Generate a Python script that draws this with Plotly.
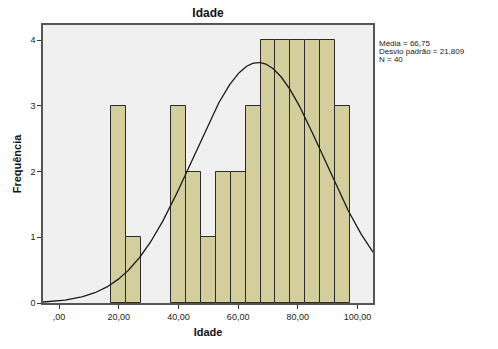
import numpy as np
import plotly.graph_objects as go

bin_centers = [20, 25, 40, 45, 50, 55, 60, 65, 70, 75, 80, 85, 90, 95]
counts = [3, 1, 3, 2, 1, 2, 2, 3, 4, 4, 4, 4, 4, 3]
bin_width = 5
mean, sd, n = 66.75, 21.809, 40
x_tick_vals = [0, 20, 40, 60, 80, 100]
x_tick_text = [",00", "20,00", "40,00", "60,00", "80,00", "100,00"]
y_tick_vals = [0, 1, 2, 3, 4]
stats_lines = [f"Média = {mean:.2f}".replace(".", ","),
               f"Desvio padrão = {sd:.3f}".replace(".", ","),
               f"N = {n}"]

xr = [-5.4, 105.2]
xs = np.linspace(xr[0], xr[1], 300)
ys = n * bin_width / (sd * np.sqrt(2 * np.pi)) * np.exp(-0.5 * ((xs - mean) / sd) ** 2)

fig = go.Figure()
fig.add_trace(go.Bar(x=bin_centers, y=counts, width=bin_width,
                     marker=dict(color="#D3CE9B", line=dict(color="#2b2b2b", width=1)),
                     showlegend=False, hoverinfo="x+y"))
fig.add_trace(go.Scatter(x=xs, y=ys, mode="lines", line=dict(color="#1a1a1a", width=1.3),
                         showlegend=False, hoverinfo="skip"))

fig.update_layout(
    width=498, height=349,
    margin=dict(l=43, r=125, t=25, b=42),
    paper_bgcolor="white", plot_bgcolor="#F0F0F0",
    font=dict(family="Arial, Liberation Sans", size=9, color="#222"),
    title=dict(text="<b>Idade</b>", x=(43 + 373) / 2 / 498, xanchor="center", y=1 - 13 / 349, yanchor="middle",
               font=dict(size=12, color="#111")),
    bargap=0,
    xaxis=dict(range=xr, tickvals=x_tick_vals, ticktext=x_tick_text, ticks="outside", ticklen=4,
               tickcolor="#333", showgrid=False, zeroline=False, showline=True, linecolor="#555", linewidth=1.5,
               mirror=True,
               title=dict(text="<b>Idade</b>", font=dict(size=11, color="#111"), standoff=8),
               tickfont=dict(size=9, color="#222")),
    yaxis=dict(range=[0, 4.23], tickvals=y_tick_vals, ticks="outside", ticklen=4, tickcolor="#333",
               showgrid=False, zeroline=False, showline=True, linecolor="#555", linewidth=1.5, mirror=True,
               title=dict(text="<b>Frequência</b>", font=dict(size=11, color="#111"), standoff=7),
               tickfont=dict(size=9, color="#222")),
)
for i, line in enumerate(stats_lines):
    fig.add_annotation(xref="paper", yref="paper", x=1.013, y=1 - (19 + 8 * i) / 282, xanchor="left",
                       yanchor="middle", align="left", showarrow=False, text=line,
                       font=dict(size=8, color="#222"))
fig.write_html("out.html")
